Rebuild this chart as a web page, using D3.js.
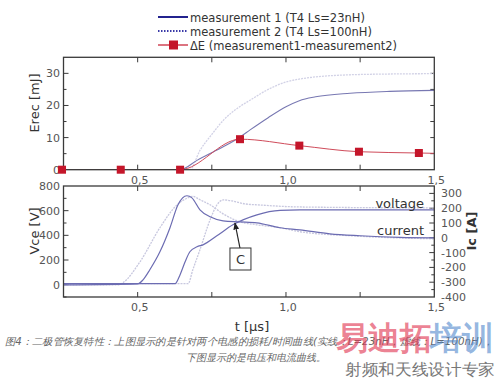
<!DOCTYPE html>
<html>
<head>
<meta charset="utf-8">
<script src="https://cdn.jsdelivr.net/npm/d3@7"></script>
<style>
body { margin: 0; background: #fff; }
svg text { font-family: "DejaVu Sans", sans-serif; }
</style>
</head>
<body>
<svg class="chart" width="500" height="379"></svg>
<script>
// ---- data (t in µs) ----
var erecM1 = [[0.25,0],[0.643,0],[0.70,2.9],[0.76,5.8],[0.812,8.3],[0.845,10.2],[0.879,12.4],[0.94,16.2],[1.0,19.6],[1.045,21.5],[1.10,22.7],[1.216,23.8],[1.35,24.4],[1.5,24.7]];
var erecM2 = [[0.25,0],[0.676,0],[0.71,6],[0.75,11],[0.79,15.5],[0.845,19.7],[0.88,21.7],[0.94,25],[1.0,27.3],[1.05,28.3],[1.10,28.9],[1.20,29.5],[1.35,29.8],[1.5,29.9]];
var deltaE = [[0.245,0],[0.443,0],[0.643,0],[0.845,9.5],[1.045,7.5],[1.246,5.6],[1.448,5.2]];
var deltaEEnd = [1.5,5.1];

var vceM1 = [[0.25,8],[0.626,8],[0.643,81],[0.66,186],[0.676,267],[0.70,307],[0.72,323],[0.767,396],[0.821,485],[0.902,566],[0.98,602],[1.047,606],[1.5,606]];
var vceM2 = [[0.25,8],[0.670,8],[0.686,121],[0.71,283],[0.744,525],[0.767,646],[0.788,687],[0.818,679],[0.862,655],[0.912,646],[1.047,630],[1.5,622]];
var icM1 = [[0.25,-318],[0.50,-311],[0.518,-284],[0.541,-216],[0.575,-95],[0.609,68],[0.636,223],[0.666,284],[0.683,270],[0.71,189],[0.744,142],[0.788,115],[0.845,108],[0.902,101],[0.98,68],[1.047,54],[1.148,27],[1.25,14],[1.384,3],[1.5,0]];
var icM2 = [[0.25,-318],[0.434,-318],[0.45,-304],[0.508,-162],[0.575,68],[0.633,223],[0.663,264],[0.686,280],[0.71,257],[0.744,223],[0.788,162],[0.845,108],[0.902,88],[0.98,68],[1.047,41],[1.216,14],[1.5,-7]];

var legendLabels = ["measurement 1 (T4 Ls=23nH)", "measurement 2 (T4 Ls=100nH)", "\u0394E (measurement1-measurement2)"];
var xTickLabels = [[0.5,"0,5"],[1.0,"1,0"],[1.5,"1,5"]];
var erecTicks = [0, 10, 20, 30];
var vceTicks = [0, 200, 400, 600, 800];
var icTicks = [300, 200, 100, 0, -100, -200, -300, -400];
var noteC = [0.828, 500];

var svg = d3.select(".chart");

// scales
var x = d3.scaleLinear().domain([0.25, 1.5]).range([63.5, 434.3]);
var yE = d3.scaleLinear().domain([0, 35]).range([169.7, 57.3]);
var yV = d3.scaleLinear().domain([-100, 800]).range([297, 186]);
var yI = d3.scaleLinear().domain([-400, 350]).range([297, 186]);

var frame = "#3a3a3a", tickCol = "#555";

function clip(id, yScale) {
  svg.append("clipPath").attr("id", id).append("rect")
    .attr("x", x.range()[0]).attr("y", yScale.range()[1])
    .attr("width", x.range()[1] - x.range()[0])
    .attr("height", yScale.range()[0] - yScale.range()[1]);
}
clip("clipTop", yE);
clip("clipBot", yV);

function lineOf(yScale) {
  return d3.line().curve(d3.curveMonotoneX)
    .x(function(d) { return x(d[0]); })
    .y(function(d) { return yScale(d[1]); });
}

// frame ticks for a panel
function panel(yScale) {
  var g = svg.append("g");
  var yb = yScale.range()[0], yt = yScale.range()[1];
  // x ticks every 0.25, inward on top and bottom
  d3.range(0.5, 1.5, 0.25).forEach(function(t) {
    g.append("line").attr("x1", x(t)).attr("x2", x(t)).attr("y1", yt).attr("y2", yt + 5)
      .attr("stroke", frame);
    g.append("line").attr("x1", x(t)).attr("x2", x(t)).attr("y1", yb).attr("y2", yb - 5)
      .attr("stroke", frame);
  });
  return g;
}

// ---------- top panel ----------
var topPanel = panel(yE);
d3.range(5, 35, 5).forEach(function(v) {
  var len = v % 10 === 0 ? 5 : 3;
  topPanel.append("line").attr("x1", x.range()[0]).attr("x2", x.range()[0] + len)
    .attr("y1", yE(v)).attr("y2", yE(v)).attr("stroke", frame);
  topPanel.append("line").attr("x1", x.range()[1]).attr("x2", x.range()[1] - 4)
    .attr("y1", yE(v)).attr("y2", yE(v)).attr("stroke", frame);
});
topPanel.selectAll(".ey").data(erecTicks).enter().append("text")
  .attr("x", 60).attr("y", function(d) { return yE(d) + 4; })
  .attr("text-anchor", "end").attr("font-size", 11).attr("fill", tickCol)
  .text(function(d) { return d; });

var topLines = svg.append("g").attr("clip-path", "url(#clipTop)");
topLines.append("path").datum(erecM2).attr("d", lineOf(yE))
  .attr("fill", "none").attr("stroke", "#d2d2e6").attr("stroke-width", 1.3)
  .attr("stroke-dasharray", "2,1");
topLines.append("path").datum(erecM1).attr("d", lineOf(yE))
  .attr("fill", "none").attr("stroke", "#7878b2").attr("stroke-width", 1.1);
topLines.append("path").datum(deltaE.concat([deltaEEnd])).attr("d", lineOf(yE))
  .attr("fill", "none").attr("stroke", "#cf4b5a").attr("stroke-width", 1);

svg.append("rect").attr("x", x.range()[0]).attr("y", yE.range()[1])
  .attr("width", x.range()[1] - x.range()[0]).attr("height", yE.range()[0] - yE.range()[1])
  .attr("fill", "none").attr("stroke", frame).attr("stroke-width", 1.3);

svg.selectAll(".dot").data(deltaE).enter().append("rect")
  .attr("x", function(d) { return x(d[0]) - 4; })
  .attr("y", function(d) { return yE(d[1]) - 4; })
  .attr("width", 8).attr("height", 8).attr("fill", "#c4162a");

// x labels between panels
svg.selectAll(".xl1").data(xTickLabels).enter().append("text")
  .attr("x", function(d) { return x(d[0]) + 2; }).attr("y", 184)
  .attr("text-anchor", "middle").attr("font-size", 11).attr("fill", tickCol)
  .text(function(d) { return d[1]; });

// ---------- bottom panel ----------
var botPanel = panel(yV);
d3.range(-100, 800, 100).forEach(function(v) {
  var len = v % 200 === 0 ? 5 : 3;
  botPanel.append("line").attr("x1", x.range()[0]).attr("x2", x.range()[0] + len)
    .attr("y1", yV(v)).attr("y2", yV(v)).attr("stroke", frame);
});
d3.range(-350, 350, 50).forEach(function(v) {
  var len = v % 100 === 0 ? 5 : 3;
  botPanel.append("line").attr("x1", x.range()[1]).attr("x2", x.range()[1] - len)
    .attr("y1", yI(v)).attr("y2", yI(v)).attr("stroke", frame);
});
botPanel.selectAll(".vy").data(vceTicks).enter().append("text")
  .attr("x", 60).attr("y", function(d) { return yV(d) + 4; })
  .attr("text-anchor", "end").attr("font-size", 11).attr("fill", tickCol)
  .text(function(d) { return d; });
botPanel.selectAll(".iy").data(icTicks).enter().append("text")
  .attr("x", 441).attr("y", function(d) { return yI(d) + 4; })
  .attr("font-size", 11).attr("fill", tickCol)
  .text(function(d) { return d; });

var botLines = svg.append("g").attr("clip-path", "url(#clipBot)");
[[icM2, yI], [vceM2, yV]].forEach(function(s) {
  botLines.append("path").datum(s[0]).attr("d", lineOf(s[1]))
    .attr("fill", "none").attr("stroke", "#c8c8df").attr("stroke-width", 1.3)
    .attr("stroke-dasharray", "2,1");
});
[[icM1, yI], [vceM1, yV]].forEach(function(s) {
  botLines.append("path").datum(s[0]).attr("d", lineOf(s[1]))
    .attr("fill", "none").attr("stroke", "#6c6cb2").attr("stroke-width", 1.2);
});

svg.append("rect").attr("x", x.range()[0]).attr("y", yV.range()[1])
  .attr("width", x.range()[1] - x.range()[0]).attr("height", yV.range()[0] - yV.range()[1])
  .attr("fill", "none").attr("stroke", frame).attr("stroke-width", 1.3);

svg.selectAll(".xl2").data(xTickLabels).enter().append("text")
  .attr("x", function(d) { return x(d[0]) + 2; }).attr("y", 311)
  .attr("text-anchor", "middle").attr("font-size", 11).attr("fill", tickCol)
  .text(function(d) { return d[1]; });

// curve labels
svg.append("text").attr("x", 424).attr("y", 208).attr("text-anchor", "end")
  .attr("font-size", 13).attr("fill", "#333").text("voltage");
svg.append("text").attr("x", 424).attr("y", 235).attr("text-anchor", "end")
  .attr("font-size", 13).attr("fill", "#333").text("current");

// annotation C
var cx = x(noteC[0]), cy = yV(noteC[1]);
svg.append("defs").append("marker").attr("id", "arr")
  .attr("viewBox", "0 0 10 10").attr("refX", 9).attr("refY", 5)
  .attr("markerWidth", 6).attr("markerHeight", 6).attr("orient", "auto")
  .append("path").attr("d", "M0,1L10,5L0,9z").attr("fill", "#222");
svg.append("line").attr("x1", cx + 5).attr("y1", cy + 25).attr("x2", cx).attr("y2", cy)
  .attr("stroke", "#222").attr("stroke-width", 1.2).attr("marker-end", "url(#arr)");
svg.append("rect").attr("x", cx - 5).attr("y", cy + 25).attr("width", 21).attr("height", 22)
  .attr("fill", "#fff").attr("stroke", "#333").attr("stroke-width", 1);
svg.append("text").attr("x", cx + 5.5).attr("y", cy + 41).attr("text-anchor", "middle")
  .attr("font-size", 13).attr("fill", "#333").text("C");

// axis titles
svg.append("text").attr("transform", "translate(39,103) rotate(-90)")
  .attr("text-anchor", "middle").attr("font-size", 13).attr("fill", "#333").text("Erec [mJ]");
svg.append("text").attr("transform", "translate(39,231) rotate(-90)")
  .attr("text-anchor", "middle").attr("font-size", 13).attr("fill", "#333").text("Vce [V]");
svg.append("text").attr("transform", "translate(476,231) rotate(-90)")
  .attr("text-anchor", "middle").attr("font-size", 13).attr("font-weight", "bold")
  .attr("fill", "#333").text("Ic [A]");
svg.append("text").attr("x", 252).attr("y", 331).attr("text-anchor", "middle")
  .attr("font-size", 13).attr("fill", "#333").text("t [\u00b5s]");

// legend
var legWidths = [175, 182, 207];
var leg = svg.append("g");
legendLabels.forEach(function(s, i) {
  var ly = 17 + i * 14;
  var ln = leg.append("line").attr("x1", 158).attr("x2", 188).attr("y1", ly).attr("y2", ly);
  if (i === 0) ln.attr("stroke", "#23238e").attr("stroke-width", 2);
  if (i === 1) ln.attr("stroke", "#3a3aa8").attr("stroke-width", 2).attr("stroke-dasharray", "1.5,1.5");
  if (i === 2) {
    ln.attr("stroke", "#c4162a").attr("stroke-width", 1.2);
    leg.append("rect").attr("x", 169).attr("y", ly - 4.5).attr("width", 9).attr("height", 9)
      .attr("fill", "#c4162a");
  }
  leg.append("text").attr("x", 190).attr("y", ly + 5).attr("font-size", 13)
    .attr("textLength", legWidths[i]).attr("lengthAdjust", "spacingAndGlyphs")
    .attr("fill", "#333").text(s);
});

// caption
var cap = svg.append("g").attr("font-family", "'Noto Sans CJK SC', sans-serif")
  .attr("font-style", "italic").attr("fill", "#666").attr("font-size", 10);
cap.append("text").attr("x", 5).attr("y", 345).attr("textLength", 488).attr("lengthAdjust", "spacingAndGlyphs")
  .text("图4：二极管恢复特性：上图显示的是针对两个电感的损耗/时间曲线(实线：L=23nH，虚线：L=100nH)，");
cap.append("text").attr("x", 256).attr("y", 361).attr("text-anchor", "middle")
  .text("下图显示的是电压和电流曲线。");

// watermark
var wm = svg.append("g").attr("font-family", "'Noto Sans CJK SC', sans-serif").attr("font-weight", "bold");
wm.append("text").attr("x", 336).attr("y", 349).attr("font-size", 32).attr("fill", "#e23a55")
  .attr("fill-opacity", 0.65).text("易迪拓");
wm.append("text").attr("x", 430).attr("y", 349).attr("font-size", 32).attr("fill", "#4f86cc")
  .attr("fill-opacity", 0.6).text("培训");
svg.append("text").attr("x", 345).attr("y", 375).attr("font-size", 16)
  .attr("font-family", "'Noto Sans CJK SC', sans-serif").attr("fill", "#777")
  .attr("textLength", 150).attr("lengthAdjust", "spacingAndGlyphs").text("射频和天线设计专家");
</script>
</body>
</html>
